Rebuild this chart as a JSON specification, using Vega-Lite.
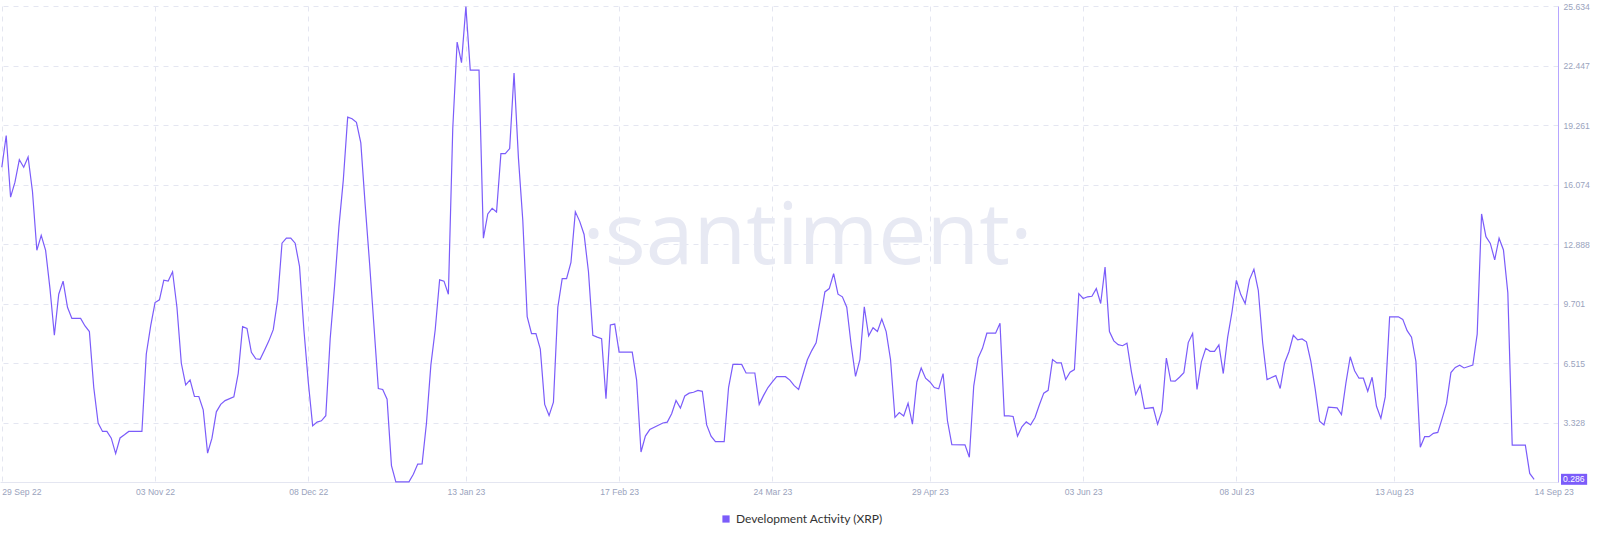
{
  "$schema": "https://vega.github.io/schema/vega-lite/v6.json",
  "width": 1558,
  "height": 476,
  "autosize": {"type": "none"},
  "padding": {"left": 0, "top": 6, "right": 42, "bottom": 59},
  "background": "white",
  "config": {"view": {"stroke": null}, "font": "Liberation Sans"},
  "datasets": {
    "dev": [
      {"date":"2022-09-29","value":17.0},{"date":"2022-09-30","value":18.7},{"date":"2022-10-01","value":15.4},{"date":"2022-10-02","value":16.2},{"date":"2022-10-03","value":17.4},{"date":"2022-10-04","value":17.0},{"date":"2022-10-05","value":17.55},{"date":"2022-10-06","value":15.7},{"date":"2022-10-07","value":12.55},{"date":"2022-10-08","value":13.35},{"date":"2022-10-09","value":12.55},{"date":"2022-10-10","value":10.5},{"date":"2022-10-11","value":8.0},{"date":"2022-10-12","value":10.2},{"date":"2022-10-13","value":10.9},{"date":"2022-10-14","value":9.5},{"date":"2022-10-15","value":8.9},{"date":"2022-10-17","value":8.9},{"date":"2022-10-18","value":8.5},{"date":"2022-10-19","value":8.2},{"date":"2022-10-20","value":5.2},{"date":"2022-10-21","value":3.3},{"date":"2022-10-22","value":2.85},{"date":"2022-10-23","value":2.85},{"date":"2022-10-24","value":2.49},{"date":"2022-10-25","value":1.66},{"date":"2022-10-26","value":2.5},{"date":"2022-10-27","value":2.67},{"date":"2022-10-28","value":2.85},{"date":"2022-10-31","value":2.85},
      {"date":"2022-11-01","value":7.0},{"date":"2022-11-02","value":8.5},{"date":"2022-11-03","value":9.75},{"date":"2022-11-04","value":9.9},{"date":"2022-11-05","value":10.95},{"date":"2022-11-06","value":10.9},{"date":"2022-11-07","value":11.4},{"date":"2022-11-08","value":9.5},{"date":"2022-11-09","value":6.5},{"date":"2022-11-10","value":5.34},{"date":"2022-11-11","value":5.61},{"date":"2022-11-12","value":4.72},{"date":"2022-11-13","value":4.72},{"date":"2022-11-14","value":4.01},{"date":"2022-11-15","value":1.69},{"date":"2022-11-16","value":2.49},{"date":"2022-11-17","value":3.9},{"date":"2022-11-18","value":4.3},{"date":"2022-11-19","value":4.5},{"date":"2022-11-21","value":4.7},{"date":"2022-11-22","value":5.96},{"date":"2022-11-23","value":8.46},{"date":"2022-11-24","value":8.37},{"date":"2022-11-25","value":7.09},{"date":"2022-11-26","value":6.74},{"date":"2022-11-27","value":6.71},{"date":"2022-11-28","value":7.2},{"date":"2022-11-29","value":7.7},{"date":"2022-11-30","value":8.3},
      {"date":"2022-12-01","value":9.9},{"date":"2022-12-02","value":12.93},{"date":"2022-12-03","value":13.2},{"date":"2022-12-04","value":13.2},{"date":"2022-12-05","value":12.93},{"date":"2022-12-06","value":11.69},{"date":"2022-12-07","value":8.3},{"date":"2022-12-08","value":5.5},{"date":"2022-12-09","value":3.15},{"date":"2022-12-10","value":3.35},{"date":"2022-12-11","value":3.42},{"date":"2022-12-12","value":3.69},{"date":"2022-12-13","value":7.8},{"date":"2022-12-14","value":10.62},{"date":"2022-12-15","value":13.82},{"date":"2022-12-16","value":16.31},{"date":"2022-12-17","value":19.68},{"date":"2022-12-18","value":19.6},{"date":"2022-12-19","value":19.4},{"date":"2022-12-20","value":18.3},{"date":"2022-12-21","value":14.97},{"date":"2022-12-22","value":11.86},{"date":"2022-12-23","value":8.5},{"date":"2022-12-24","value":5.15},{"date":"2022-12-25","value":5.1},{"date":"2022-12-26","value":4.58},{"date":"2022-12-27","value":1.02},{"date":"2022-12-28","value":0.15},{"date":"2022-12-31","value":0.15},
      {"date":"2023-01-01","value":0.56},{"date":"2023-01-02","value":1.1},{"date":"2023-01-03","value":1.11},{"date":"2023-01-04","value":3.3},{"date":"2023-01-05","value":6.4},{"date":"2023-01-06","value":8.31},{"date":"2023-01-07","value":10.97},{"date":"2023-01-08","value":10.9},{"date":"2023-01-09","value":10.2},{"date":"2023-01-10","value":19.06},{"date":"2023-01-11","value":23.7},{"date":"2023-01-12","value":22.6},{"date":"2023-01-13","value":25.6},{"date":"2023-01-14","value":22.2},{"date":"2023-01-16","value":22.2},{"date":"2023-01-17","value":13.2},{"date":"2023-01-18","value":14.5},{"date":"2023-01-19","value":14.8},{"date":"2023-01-20","value":14.6},{"date":"2023-01-21","value":17.73},{"date":"2023-01-22","value":17.73},{"date":"2023-01-23","value":18.0},{"date":"2023-01-24","value":22.05},{"date":"2023-01-25","value":17.5},{"date":"2023-01-26","value":14.15},{"date":"2023-01-27","value":9.0},{"date":"2023-01-28","value":8.09},{"date":"2023-01-29","value":8.09},{"date":"2023-01-30","value":7.26},{"date":"2023-01-31","value":4.3},
      {"date":"2023-02-01","value":3.7},{"date":"2023-02-02","value":4.42},{"date":"2023-02-03","value":9.5},{"date":"2023-02-04","value":11.03},{"date":"2023-02-05","value":11.03},{"date":"2023-02-06","value":11.9},{"date":"2023-02-07","value":14.61},{"date":"2023-02-08","value":14.1},{"date":"2023-02-09","value":13.4},{"date":"2023-02-10","value":11.4},{"date":"2023-02-11","value":8.0},{"date":"2023-02-12","value":7.9},{"date":"2023-02-13","value":7.82},{"date":"2023-02-14","value":4.6},{"date":"2023-02-15","value":8.55},{"date":"2023-02-16","value":8.6},{"date":"2023-02-17","value":7.1},{"date":"2023-02-20","value":7.1},{"date":"2023-02-21","value":5.6},{"date":"2023-02-22","value":1.75},{"date":"2023-02-23","value":2.6},{"date":"2023-02-24","value":2.95},{"date":"2023-02-27","value":3.3},{"date":"2023-02-28","value":3.35},
      {"date":"2023-03-01","value":3.8},{"date":"2023-03-02","value":4.51},{"date":"2023-03-03","value":4.1},{"date":"2023-03-04","value":4.75},{"date":"2023-03-05","value":4.9},{"date":"2023-03-06","value":4.95},{"date":"2023-03-07","value":5.05},{"date":"2023-03-08","value":5.0},{"date":"2023-03-09","value":3.2},{"date":"2023-03-10","value":2.6},{"date":"2023-03-11","value":2.3},{"date":"2023-03-13","value":2.3},{"date":"2023-03-14","value":5.2},{"date":"2023-03-15","value":6.44},{"date":"2023-03-17","value":6.44},{"date":"2023-03-18","value":5.98},{"date":"2023-03-20","value":5.98},{"date":"2023-03-21","value":4.3},{"date":"2023-03-22","value":4.78},{"date":"2023-03-23","value":5.2},{"date":"2023-03-24","value":5.5},{"date":"2023-03-25","value":5.78},{"date":"2023-03-27","value":5.78},{"date":"2023-03-28","value":5.6},{"date":"2023-03-29","value":5.3},{"date":"2023-03-30","value":5.1},{"date":"2023-03-31","value":5.9},
      {"date":"2023-04-01","value":6.69},{"date":"2023-04-02","value":7.18},{"date":"2023-04-03","value":7.6},{"date":"2023-04-04","value":8.9},{"date":"2023-04-05","value":10.32},{"date":"2023-04-06","value":10.5},{"date":"2023-04-07","value":11.3},{"date":"2023-04-08","value":10.2},{"date":"2023-04-09","value":10.06},{"date":"2023-04-10","value":9.5},{"date":"2023-04-11","value":7.49},{"date":"2023-04-12","value":5.8},{"date":"2023-04-13","value":6.69},{"date":"2023-04-14","value":9.52},{"date":"2023-04-15","value":7.97},{"date":"2023-04-16","value":8.4},{"date":"2023-04-17","value":8.2},{"date":"2023-04-18","value":8.87},{"date":"2023-04-19","value":8.2},{"date":"2023-04-20","value":6.69},{"date":"2023-04-21","value":3.6},{"date":"2023-04-22","value":3.86},{"date":"2023-04-23","value":3.68},{"date":"2023-04-24","value":4.36},{"date":"2023-04-25","value":3.24},{"date":"2023-04-26","value":5.5},{"date":"2023-04-27","value":6.25},{"date":"2023-04-28","value":5.7},{"date":"2023-04-29","value":5.5},{"date":"2023-04-30","value":5.2},
      {"date":"2023-05-01","value":5.13},{"date":"2023-05-02","value":5.95},{"date":"2023-05-03","value":3.42},{"date":"2023-05-04","value":2.14},{"date":"2023-05-07","value":2.13},{"date":"2023-05-08","value":1.47},{"date":"2023-05-09","value":5.28},{"date":"2023-05-10","value":6.78},{"date":"2023-05-11","value":7.3},{"date":"2023-05-12","value":8.11},{"date":"2023-05-14","value":8.11},{"date":"2023-05-15","value":8.64},{"date":"2023-05-16","value":3.68},{"date":"2023-05-17","value":3.68},{"date":"2023-05-18","value":3.65},{"date":"2023-05-19","value":2.6},{"date":"2023-05-20","value":3.1},{"date":"2023-05-21","value":3.36},{"date":"2023-05-22","value":3.2},{"date":"2023-05-23","value":3.6},{"date":"2023-05-24","value":4.28},{"date":"2023-05-25","value":4.9},{"date":"2023-05-26","value":5.05},{"date":"2023-05-27","value":6.7},{"date":"2023-05-28","value":6.52},{"date":"2023-05-29","value":6.52},{"date":"2023-05-30","value":5.63},{"date":"2023-05-31","value":6.02},
      {"date":"2023-06-01","value":6.16},{"date":"2023-06-02","value":10.23},{"date":"2023-06-03","value":9.97},{"date":"2023-06-04","value":10.06},{"date":"2023-06-05","value":10.09},{"date":"2023-06-06","value":10.5},{"date":"2023-06-07","value":9.7},{"date":"2023-06-08","value":11.65},{"date":"2023-06-09","value":8.2},{"date":"2023-06-10","value":7.7},{"date":"2023-06-11","value":7.5},{"date":"2023-06-12","value":7.44},{"date":"2023-06-13","value":7.58},{"date":"2023-06-14","value":6.07},{"date":"2023-06-15","value":4.83},{"date":"2023-06-16","value":5.31},{"date":"2023-06-17","value":4.07},{"date":"2023-06-19","value":4.13},{"date":"2023-06-20","value":3.24},{"date":"2023-06-21","value":3.95},{"date":"2023-06-22","value":6.78},{"date":"2023-06-23","value":5.55},{"date":"2023-06-24","value":5.54},{"date":"2023-06-25","value":5.75},{"date":"2023-06-26","value":6.0},{"date":"2023-06-27","value":7.61},{"date":"2023-06-28","value":8.1},{"date":"2023-06-29","value":5.1},{"date":"2023-06-30","value":6.58},
      {"date":"2023-07-01","value":7.3},{"date":"2023-07-02","value":7.14},{"date":"2023-07-03","value":7.14},{"date":"2023-07-04","value":7.49},{"date":"2023-07-05","value":5.95},{"date":"2023-07-06","value":7.89},{"date":"2023-07-07","value":9.26},{"date":"2023-07-08","value":10.94},{"date":"2023-07-09","value":10.18},{"date":"2023-07-10","value":9.7},{"date":"2023-07-11","value":10.98},{"date":"2023-07-12","value":11.53},{"date":"2023-07-13","value":10.41},{"date":"2023-07-14","value":7.6},{"date":"2023-07-15","value":5.63},{"date":"2023-07-17","value":5.84},{"date":"2023-07-18","value":5.15},{"date":"2023-07-19","value":6.52},{"date":"2023-07-20","value":7.12},{"date":"2023-07-21","value":8.0},{"date":"2023-07-22","value":7.75},{"date":"2023-07-23","value":7.8},{"date":"2023-07-24","value":7.65},{"date":"2023-07-25","value":6.6},{"date":"2023-07-26","value":5.12},{"date":"2023-07-27","value":3.4},{"date":"2023-07-28","value":3.2},{"date":"2023-07-29","value":4.15},{"date":"2023-07-31","value":4.11},
      {"date":"2023-08-01","value":3.75},{"date":"2023-08-02","value":5.42},{"date":"2023-08-03","value":6.85},{"date":"2023-08-04","value":6.1},{"date":"2023-08-05","value":5.7},{"date":"2023-08-06","value":5.7},{"date":"2023-08-07","value":5.0},{"date":"2023-08-08","value":5.75},{"date":"2023-08-09","value":4.2},{"date":"2023-08-10","value":3.55},{"date":"2023-08-11","value":4.7},{"date":"2023-08-12","value":8.99},{"date":"2023-08-14","value":8.99},{"date":"2023-08-15","value":8.85},{"date":"2023-08-16","value":8.25},{"date":"2023-08-17","value":7.9},{"date":"2023-08-18","value":6.6},{"date":"2023-08-19","value":2.0},{"date":"2023-08-20","value":2.57},{"date":"2023-08-21","value":2.57},{"date":"2023-08-22","value":2.75},{"date":"2023-08-23","value":2.8},{"date":"2023-08-24","value":3.55},{"date":"2023-08-25","value":4.35},{"date":"2023-08-26","value":6.0},{"date":"2023-08-27","value":6.28},{"date":"2023-08-28","value":6.4},{"date":"2023-08-29","value":6.25},{"date":"2023-08-31","value":6.4},
      {"date":"2023-09-01","value":8.06},{"date":"2023-09-02","value":14.5},{"date":"2023-09-03","value":13.28},{"date":"2023-09-04","value":12.92},{"date":"2023-09-05","value":12.04},{"date":"2023-09-06","value":13.2},{"date":"2023-09-07","value":12.57},{"date":"2023-09-08","value":10.27},{"date":"2023-09-09","value":2.12},{"date":"2023-09-12","value":2.12},{"date":"2023-09-13","value":0.6},{"date":"2023-09-14","value":0.286}
    ],
    "last": [{"value": 0.286, "label": "0.286"}],
    "mark": [{"date": "2023-04-01T00:00:00Z", "value": 11.8, "t": "·santiment·"}]
  },
  "layer": [
    {
      "data": {"name": "mark"},
      "mark": {"type": "text", "font": "Open Sans", "fontSize": 86, "color": "#e7e9f3", "align": "center", "baseline": "alphabetic"},
      "encoding": {
        "x": {"field": "date", "type": "temporal", "scale": {"type": "utc"}},
        "y": {"field": "value", "type": "quantitative"},
        "text": {"field": "t"}
      }
    },
    {
      "data": {"name": "dev"},
      "mark": {"type": "line", "strokeWidth": 1.2, "interpolate": "linear"},
      "encoding": {
        "x": {
          "field": "date", "type": "temporal",
          "scale": {"type": "utc", "domain": [{"year": 2022, "month": "sep", "date": 28, "hours": 14, "utc": true}, {"year": 2023, "month": "sep", "date": 19, "hours": 11, "utc": true}]},
          "axis": {
            "title": null,
            "values": [
              {"year": 2022, "month": "sep", "date": 29, "utc": true},
              {"year": 2022, "month": "nov", "date": 3, "utc": true},
              {"year": 2022, "month": "dec", "date": 8, "utc": true},
              {"year": 2023, "month": "jan", "date": 13, "utc": true},
              {"year": 2023, "month": "feb", "date": 17, "utc": true},
              {"year": 2023, "month": "mar", "date": 24, "utc": true},
              {"year": 2023, "month": "apr", "date": 29, "utc": true},
              {"year": 2023, "month": "jun", "date": 3, "utc": true},
              {"year": 2023, "month": "jul", "date": 8, "utc": true},
              {"year": 2023, "month": "aug", "date": 13, "utc": true},
              {"year": 2023, "month": "sep", "date": 14, "utc": true}
            ],
            "format": "%d %b %y",
            "labelAlign": {"condition": {"test": "datum.index === 0 || datum.index === 1", "value": "left"}, "value": "center"},
            "labelFlush": false,
            "labelOverlap": false,
            "labelColor": "#9aa3bd",
            "labelFontSize": 8.6,
            "labelPadding": 5,
            "ticks": false,
            "domainColor": "#e4e6f1",
            "grid": true,
            "gridColor": "#e4e6f1",
            "gridDash": [5, 5],
            "gridOpacity": {"condition": {"test": "datum.index === 1", "value": 0}, "value": 1}
          }
        },
        "y": {
          "field": "value", "type": "quantitative",
          "scale": {"domain": [0.142, 25.634], "nice": false, "zero": false},
          "axis": {
            "orient": "right",
            "title": null,
            "values": [3.328, 6.515, 9.701, 12.888, 16.074, 19.261, 22.447, 25.634],
            "format": ".3f",
            "labelColor": "#9aa3bd",
            "labelFontSize": 8.6,
            "labelPadding": 5,
            "labelFlush": false,
            "labelOverlap": false,
            "ticks": false,
            "domainColor": "#b6a6ff",
            "grid": true,
            "gridColor": "#e4e6f1",
            "gridDash": [5, 5]
          }
        },
        "color": {
          "datum": "Development Activity (XRP)",
          "scale": {"range": ["#7b5cfa"]},
          "legend": {
            "orient": "none",
            "legendX": 720,
            "legendY": 507,
            "direction": "horizontal",
            "title": null,
            "symbolType": "square",
            "symbolSize": 52,
            "symbolFillColor": "#7b5cfa",
            "symbolStrokeWidth": 0,
            "labelFont": "Lato",
            "labelFontSize": 12,
            "labelColor": "#333333"
          }
        }
      }
    },
    {
      "data": {"name": "last"},
      "mark": {"type": "point", "shape": "M0.55,-1H5.3V1H0.55Z", "filled": true, "opacity": 1, "color": "#7b5cfa", "size": 121},
      "encoding": {
        "x": {"datum": {"year": 2023, "month": "sep", "date": 19, "hours": 11, "utc": true}, "type": "temporal"},
        "y": {"field": "value", "type": "quantitative"}
      }
    },
    {
      "data": {"name": "last"},
      "mark": {"type": "text", "align": "left", "baseline": "middle", "dx": 5, "color": "white", "fontSize": 8.6},
      "encoding": {
        "x": {"datum": {"year": 2023, "month": "sep", "date": 19, "hours": 11, "utc": true}, "type": "temporal"},
        "y": {"field": "value", "type": "quantitative"},
        "text": {"field": "label"}
      }
    }
  ]
}
